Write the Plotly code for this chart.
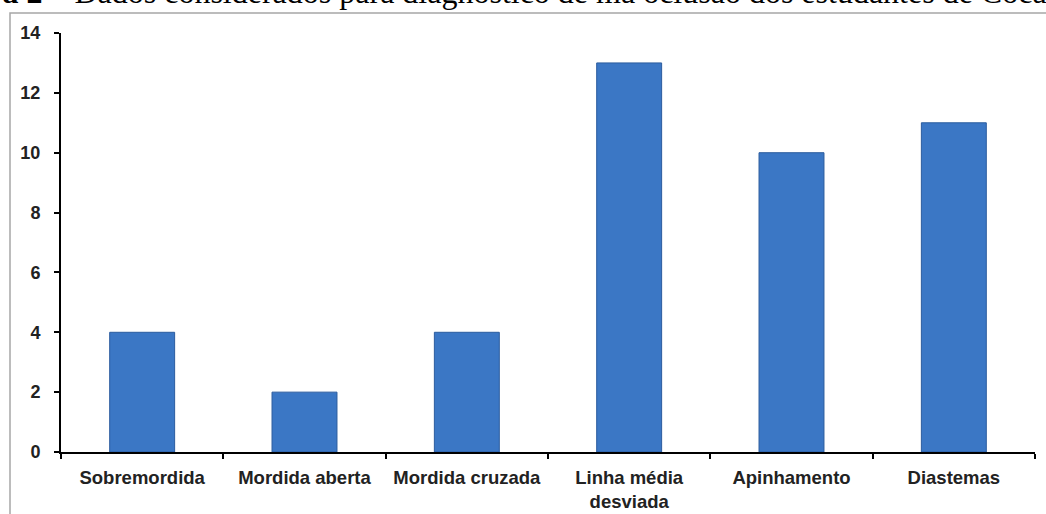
import plotly.graph_objects as go

categories = ["Sobremordida", "Mordida aberta", "Mordida cruzada",
              "Linha média<br>desviada", "Apinhamento", "Diastemas"]
values = [4, 2, 4, 13, 10, 11]
y_ticks = [0, 2, 4, 6, 8, 10, 12, 14]
title_text = "<b>Figura 2</b> – Dados considerados para diagnóstico de má oclusão dos estudantes de Cocal"

W, H = 1046, 514
L, R, T, B = 61, 11, 33, 62
pw = W - L - R
ph = H - T - B

def px(x):
    return (x - L) / pw

def py(y):
    return (H - B - y) / ph

fig = go.Figure()
fig.add_trace(go.Bar(
    x=categories, y=values, width=0.4,
    marker=dict(color="#3b77c5", line=dict(color="#2b5c9e", width=1)),
    hoverinfo="skip",
))

fig.update_layout(
    width=W, height=H,
    margin=dict(l=L, r=R, t=T, b=B, pad=0, autoexpand=False),
    paper_bgcolor="white", plot_bgcolor="white",
    showlegend=False,
    font=dict(family="Liberation Sans, Arial, sans-serif", color="#222222"),
    xaxis=dict(
        type="category", tickson="boundaries", ticks="outside", ticklen=5,
        tickwidth=2, tickcolor="black", showline=True, linecolor="black",
        linewidth=2, showgrid=False, range=[-0.5, 5.5], automargin=False,
        tickfont=dict(size=18.5, family="Liberation Sans, Arial", weight="bold", color="#222222"),
        ticklabelstandoff=8,
    ),
    yaxis=dict(
        range=[0, 14], tickvals=y_ticks, ticks="outside", ticklen=5,
        tickwidth=2, tickcolor="black", showline=True, linecolor="black",
        linewidth=2, showgrid=False, zeroline=False, automargin=False,
        tickfont=dict(size=18, family="Liberation Sans, Arial", weight="bold", color="#222222"),
        ticklabelstandoff=10,
    ),
    shapes=[dict(
        type="rect", xref="paper", yref="paper",
        x0=px(10), x1=px(W + 20), y0=py(H + 20), y1=py(13),
        line=dict(color="#a6a6a6", width=1.5), fillcolor="rgba(0,0,0,0)", layer="below",
    )],
    annotations=[dict(
        text=title_text, xref="paper", yref="paper",
        x=px(-76), y=py(12), xanchor="left", yanchor="bottom",
        showarrow=False,
        font=dict(family="Liberation Serif, Times New Roman, serif", size=32, color="black"),
    )],
)

fig.write_html("out.html")
